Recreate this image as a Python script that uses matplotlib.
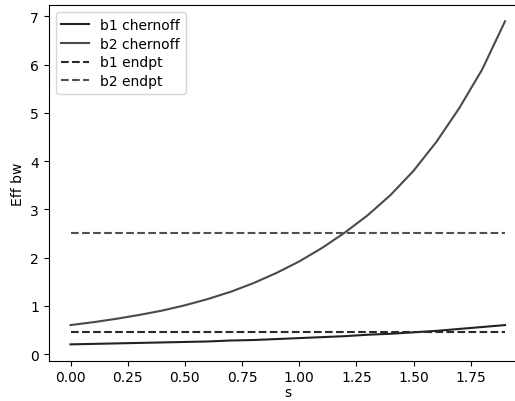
import numpy as np
import matplotlib
matplotlib.use("Agg")
import matplotlib.pyplot as plt

s = np.round(np.arange(0.0, 2.0, 0.1), 1)
b1_chernoff = [0.20, 0.21, 0.22, 0.23, 0.24, 0.25, 0.26, 0.28, 0.29, 0.31,
               0.33, 0.35, 0.37, 0.40, 0.42, 0.45, 0.48, 0.52, 0.56, 0.60]
b2_chernoff = [0.60, 0.66, 0.73, 0.81, 0.90, 1.01, 1.14, 1.29, 1.47, 1.68,
               1.92, 2.20, 2.52, 2.88, 3.30, 3.80, 4.40, 5.10, 5.90, 6.90]
b1_endpt = 0.45
b2_endpt = 2.50

fig = plt.figure(figsize=(5.15, 4.02), dpi=100)
ax = fig.add_axes([0.0948, 0.1007, 0.928, 0.884])

ax.plot(s, b1_chernoff, color="#222222", lw=1.5, label="b1 chernoff")
ax.plot(s, b2_chernoff, color="#4a4a4a", lw=1.5, label="b2 chernoff")
ax.plot(s, [b1_endpt] * len(s), color="#2a2a2a", lw=1.5, ls="--", label="b1 endpt")
ax.plot(s, [b2_endpt] * len(s), color="#505050", lw=1.5, ls="--", label="b2 endpt")

ax.set_xticks([0.0, 0.25, 0.5, 0.75, 1.0, 1.25, 1.5, 1.75])
ax.set_xlabel("s", labelpad=0.5)
ax.set_ylabel("Eff bw")
ax.legend(loc="upper left", labelspacing=0.35)

fig.savefig("out.png", dpi=100)
